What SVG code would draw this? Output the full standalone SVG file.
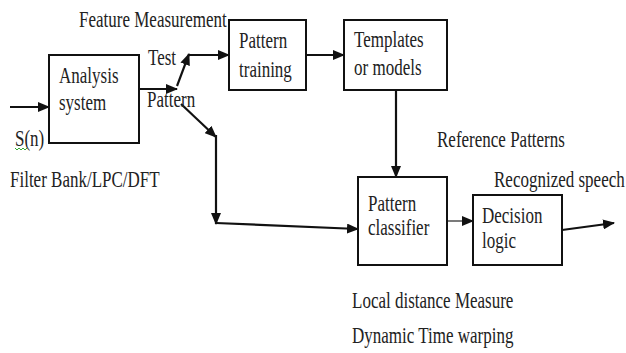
<svg xmlns="http://www.w3.org/2000/svg" width="626" height="353" viewBox="0 0 626 353">
<defs>
<marker id="ah" markerUnits="userSpaceOnUse" markerWidth="12" markerHeight="10" refX="11" refY="5" orient="auto">
<path d="M0,0 L12,5 L0,10 Z" fill="#111"/>
</marker>
<style>
.box{fill:#fff;stroke:#111;stroke-width:2}
.ln{fill:none;stroke:#111;stroke-width:2.2}
.thin{fill:none;stroke:#333;stroke-width:1.3}
text{font-family:"Liberation Serif","Times New Roman",serif;font-size:17px;fill:#222}
</style>
</defs>
<rect width="626" height="353" fill="#fff"/>

<g id="connectors">
<line class="ln" x1="10" y1="107" x2="49" y2="107" marker-end="url(#ah)"/>
<line class="ln" x1="139" y1="89" x2="177" y2="89" marker-end="url(#ah)"/>
<line class="ln" x1="177" y1="86" x2="189" y2="54" marker-end="url(#ah)"/>
<line class="ln" x1="188" y1="55" x2="229" y2="55" marker-end="url(#ah)"/>
<line class="ln" x1="181" y1="104" x2="216" y2="137" marker-end="url(#ah)"/>
<line class="ln" x1="216" y1="135" x2="216" y2="224" marker-end="url(#ah)"/>
<line class="ln" x1="216" y1="223" x2="358" y2="229" marker-end="url(#ah)"/>
<line class="ln" x1="306" y1="55" x2="344" y2="55" marker-end="url(#ah)"/>
<line class="ln" x1="396" y1="90" x2="396" y2="177" marker-end="url(#ah)"/>
<line class="thin" x1="447" y1="221" x2="473" y2="221" marker-end="url(#ah)"/>
<line class="ln" x1="562" y1="230" x2="614" y2="223" marker-end="url(#ah)"/>
</g>

<g id="analysis">
<rect class="box" x="49" y="55" width="90" height="88"/>
<text transform="translate(59,83) scale(1,1.33)">Analysis</text>
<text transform="translate(59,110) scale(1,1.33)">system</text>
</g>

<g id="training">
<rect class="box" x="229" y="20" width="77" height="70"/>
<text transform="translate(239,48) scale(1,1.33)">Pattern</text>
<text transform="translate(239,77) scale(1,1.33)">training</text>
</g>

<g id="templates">
<rect class="box" x="344" y="20" width="103" height="70"/>
<text transform="translate(354,47) scale(1,1.33)">Templates</text>
<text transform="translate(354,75) scale(1,1.33)">or models</text>
</g>

<g id="classifier">
<rect class="box" x="358" y="177" width="89" height="88"/>
<text transform="translate(368,211) scale(1,1.3)">Pattern</text>
<text transform="translate(368,235) scale(1,1.3)">classifier</text>
</g>

<g id="decision">
<rect class="box" x="473" y="195" width="89" height="70"/>
<text transform="translate(482,223) scale(1,1.33)">Decision</text>
<text transform="translate(482,248) scale(1,1.33)">logic</text>
</g>

<g id="labels">
<text transform="translate(79,27) scale(1,1.33)">Feature Measurement</text>
<text transform="translate(148,65) scale(1,1.33)">Test</text>
<text transform="translate(147,107) scale(1,1.33)">Pattern</text>
<text transform="translate(15,146) scale(1,1.33)">S(n)</text>
<path d="M15,148 l2,2 l2,-2 l2,2 l2,-2 l2,2 l2,-2" fill="none" stroke="#3a3" stroke-width="1"/>
<text transform="translate(10,187) scale(1,1.33)">Filter Bank/LPC/DFT</text>
<text transform="translate(437,147) scale(1,1.33)">Reference Patterns</text>
<text transform="translate(494,187) scale(1,1.33)">Recognized speech</text>
<text transform="translate(352,308) scale(1,1.33)">Local distance Measure</text>
<text transform="translate(352,343) scale(1,1.33)">Dynamic Time warping</text>
</g>
</svg>
